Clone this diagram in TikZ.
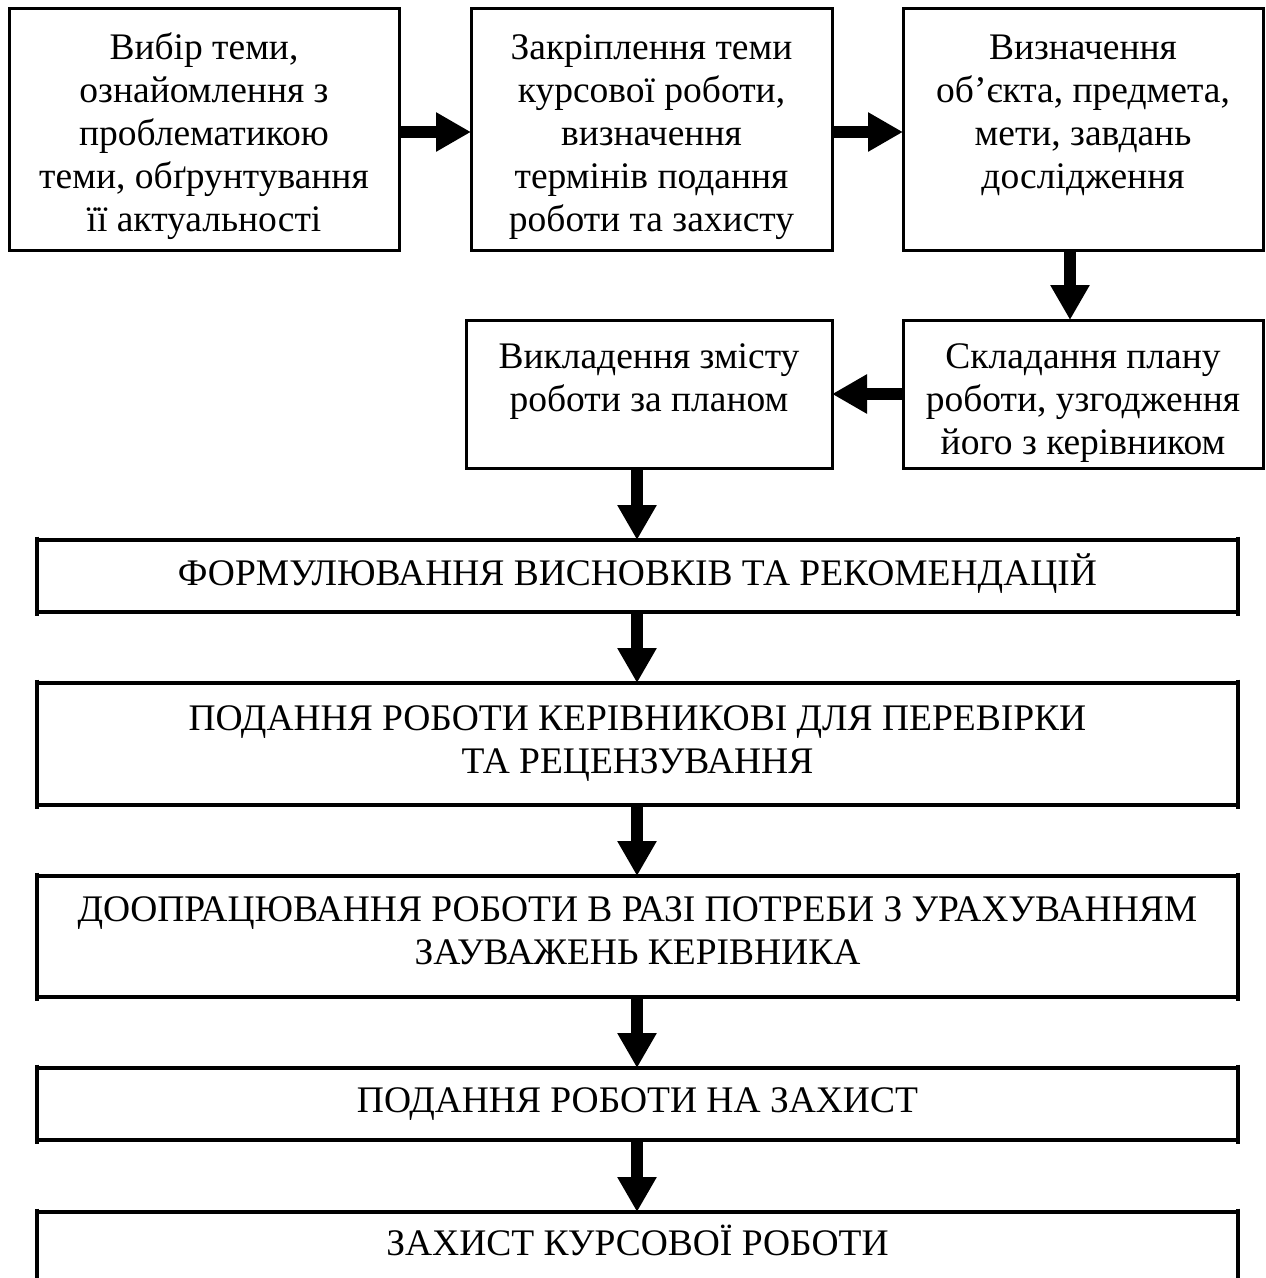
\documentclass[tikz,border=0pt]{standalone}
\usepackage{fontspec}
\setmainfont{Liberation Serif}
\usetikzlibrary{arrows.meta}
\newcommand\boxlines[1]{\begin{tabular}[t]{@{}c@{}}#1\end{tabular}}
\tikzset{
  box/.style={draw, line width=3pt, inner sep=0pt, outer sep=0pt},
  wide/.style={draw=none, inner sep=0pt, outer sep=0pt, minimum width=1201pt},
  hline/.style={line width=3.6pt},
  vline/.style={line width=4.4pt},
  txt/.style={anchor=base, inner sep=0pt, outer sep=0pt, font=\fontsize{37.5}{43}\selectfont},
  arr/.style={line width=11.5pt, -{Triangle[length=35pt,width=37pt]}},
}
\newcommand\drawwide[1]{%
  \draw[hline] (#1.north west) -- (#1.north east);
  \draw[hline] (#1.south west) -- (#1.south east);
  \draw[vline] ([yshift=3.5pt]#1.north west) -- ([yshift=-3.5pt]#1.south west);
  \draw[vline] ([yshift=3.5pt]#1.north east) -- ([yshift=-3.5pt]#1.south east);
}
\begin{document}
\begin{tikzpicture}[x=1pt,y=-1pt]
\useasboundingbox (0,0) rectangle (1266,1278);
\clip (0,0) rectangle (1266,1278);
% top row
\node[box, minimum width=390pt, minimum height=242pt] (b1) at (204,129) {};
\node[box, minimum width=361pt, minimum height=242pt] (b2) at (651.5,129) {};
\node[box, minimum width=360pt, minimum height=242pt] (b3) at (1083,129) {};
\node[txt] (t1) at (204,59) {\boxlines{Вибір теми,\\ознайомлення з\\проблематикою\\теми, обґрунтування\\її актуальності}};
\node[txt] (t2) at (651.5,59) {\boxlines{Закріплення теми\\курсової роботи,\\визначення\\термінів подання\\роботи та захисту}};
\node[txt] (t3) at (1083,59) {\boxlines{Визначення\\об’єкта, предмета,\\мети, завдань\\дослідження}};
% second row
\node[box, minimum width=360pt, minimum height=148pt] (b4) at (1083,394) {};
\node[box, minimum width=366pt, minimum height=148pt] (b5) at (649,394) {};
\node[txt] (t4) at (1083,368) {\boxlines{Складання плану\\роботи, узгодження\\його з керівником}};
\node[txt] (t5) at (649,368) {\boxlines{Викладення змісту\\роботи за планом}};
% wide boxes
\node[wide, minimum height=72pt] (w1) at (637.5,576) {};
\node[wide, minimum height=122pt] (w2) at (637.5,744) {};
\node[wide, minimum height=121pt] (w3) at (637.5,936.5) {};
\node[wide, minimum height=72pt] (w4) at (637.5,1104) {};
\node[wide, minimum height=100pt] (w5) at (637.5,1262) {};
\drawwide{w1}
\drawwide{w2}
\drawwide{w3}
\drawwide{w4}
\draw[hline] (w5.north west) -- (w5.north east);
\draw[vline] ([yshift=3.5pt]w5.north west) -- (w5.south west);
\draw[vline] ([yshift=3.5pt]w5.north east) -- (w5.south east);
\node[txt] (tw1) at (637.5,585) {ФОРМУЛЮВАННЯ ВИСНОВКІВ ТА РЕКОМЕНДАЦІЙ};
\node[txt] (tw2) at (637.5,730) {\boxlines{ПОДАННЯ РОБОТИ КЕРІВНИКОВІ ДЛЯ ПЕРЕВІРКИ\\ТА РЕЦЕНЗУВАННЯ}};
\node[txt] (tw3) at (637.5,921) {\boxlines{ДООПРАЦЮВАННЯ РОБОТИ В РАЗІ ПОТРЕБИ З УРАХУВАННЯМ\\ЗАУВАЖЕНЬ КЕРІВНИКА}};
\node[txt] (tw4) at (637.5,1112) {ПОДАННЯ РОБОТИ НА ЗАХИСТ};
\node[txt] (tw5) at (637.5,1255) {ЗАХИСТ КУРСОВОЇ РОБОТИ};
% connectors
\coordinate (ya) at (0,132);
\coordinate (xa) at (1070,0);
\coordinate (xb) at (637,0);
\draw[arr] (b1.east |- ya) -- (b2.west |- ya);
\draw[arr] (b2.east |- ya) -- (b3.west |- ya);
\draw[arr] (b3.south -| xa) -- (b4.north -| xa);
\draw[arr] (b4.west) -- (b5.east);
\draw[arr] (b5.south -| xb) -- (w1.north -| xb);
\draw[arr] (w1.south -| xb) -- (w2.north -| xb);
\draw[arr] (w2.south -| xb) -- (w3.north -| xb);
\draw[arr] (w3.south -| xb) -- (w4.north -| xb);
\draw[arr] (w4.south -| xb) -- (w5.north -| xb);
\end{tikzpicture}
\end{document}
